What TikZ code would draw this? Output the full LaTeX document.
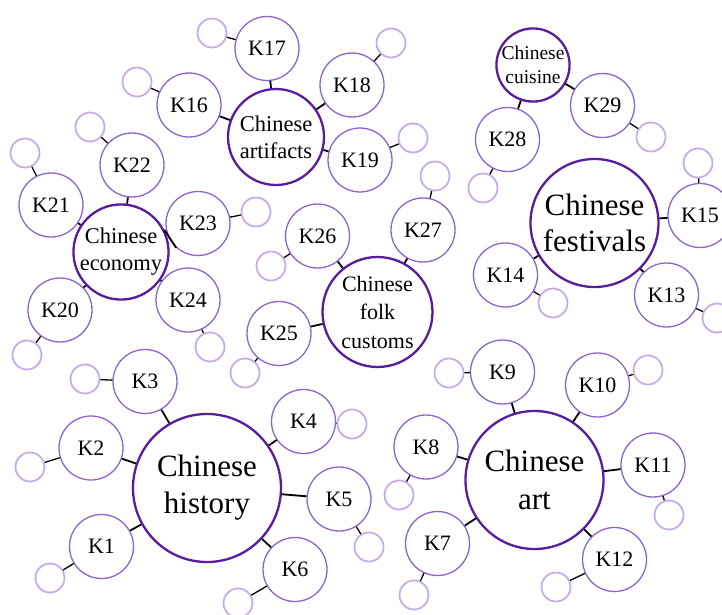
\documentclass[tikz,border=0pt]{standalone}
\usepackage{fontspec}
\setmainfont{Liberation Serif}
\definecolor{hubpurple}{RGB}{88,28,160}
\definecolor{keypurple}{RGB}{140,100,205}
\definecolor{leafpurple}{RGB}{200,172,232}
\begin{document}
\begin{tikzpicture}[x=1pt,y=-1pt,
  hub/.style={circle,draw=hubpurple,line width=2.3pt,fill=white,inner sep=0pt,align=center,text=black},
  keynode/.style={circle,draw=keypurple,line width=1.3pt,fill=white,inner sep=0pt,minimum size=64pt,
    font=\fontsize{22}{26}\selectfont,text=black},
  leaf/.style={circle,draw=leafpurple,line width=1.8pt,fill=white,inner sep=0pt,minimum size=29pt},
  hublink/.style={line width=1.8pt,black},
  leaflink/.style={line width=1.3pt,black}]
\clip (0,0) rectangle (722,615);
\fill[white] (0,0) rectangle (722,615);

% topic hubs
\node[hub,minimum size=148pt,font=\fontsize{31}{37}\selectfont] (hist) at (207,488) {Chinese\\history};
\node[hub,minimum size=138pt,font=\fontsize{31}{38}\selectfont] (art) at (534.5,480) {Chinese\\art};
\node[hub,minimum size=128pt,font=\fontsize{31}{36}\selectfont] (fest) at (594.5,223) {Chinese\\festivals};
\node[hub,minimum size=72pt,font=\fontsize{19.5}{24}\selectfont] (cuis) at (533,65) {Chinese\\cuisine};
\node[hub,minimum size=96pt,font=\fontsize{22.5}{27}\selectfont] (artf) at (276,137) {Chinese\\artifacts};
\node[hub,minimum size=88pt,font=\fontsize{22.5}{27}\selectfont] (econ) at (121,252) {Chinese\\economy};
\node[hub,minimum size=110pt,font=\fontsize{22}{28.5}\selectfont] (folk) at (377.5,312) {Chinese\\folk\\customs};

% key nodes, each with its leaf, linked to their hub
\foreach \n/\x/\y/\sx/\sy/\m in {
  1/101.5/546.5/50/578/hist, 2/91/448/30/467/hist, 3/145/381.5/85/379/hist,
  4/303.5/421.5/352/424/hist, 5/339/499/369/547/hist, 6/295/569.5/238/603/hist,
  7/437.5/543.5/414/595/art, 8/426/447/399/495/art, 9/502.5/372/449/373/art,
  10/597.5/385/648/370/art, 11/653/465/669/515/art, 12/614.5/559.5/556/587/art,
  13/666.5/295/717/318/fest, 14/505.5/275/553/303/fest, 15/700/215.5/698/163/fest,
  16/189/105/137/82/artf, 17/267/48.5/212/33/artf, 18/352/85/391/43/artf,
  19/360/160/413/138/artf,
  20/60/310/27/355/econ, 21/51/205/25/153/econ, 22/132/165/90/127/econ,
  24/188/300/210/347/econ,
  25/279/333.5/245/373/folk, 26/317.5/236/271/266/folk, 27/423/230/435/176/folk,
  28/507.5/139.5/483/188/cuis, 29/602.5/105.5/651/137/cuis}{
  \node[keynode] (K\n) at (\x,\y) {K\n};
  \node[leaf] (L\n) at (\sx,\sy) {};
  \draw[hublink] (\m) -- (K\n);
  \draw[leaflink] (K\n) -- (L\n);
}

% K23 hangs off the economy hub with a slanted link
\node[keynode] (K23) at (198,223.5) {K23};
\node[leaf] (L23) at (256,212) {};
\draw[hublink] (econ.27) -- (K23.228);
\draw[leaflink] (K23) -- (L23);
\end{tikzpicture}
\end{document}
